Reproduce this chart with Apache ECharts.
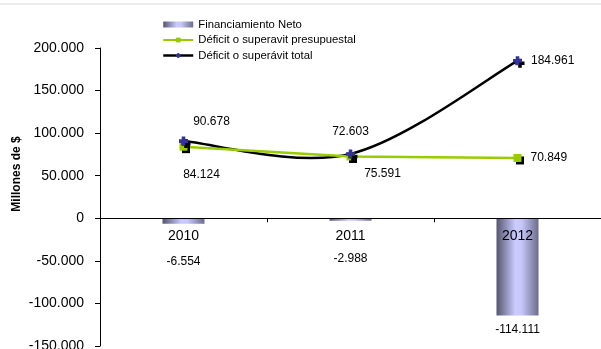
<!DOCTYPE html>
<html><head><meta charset="utf-8">
<script src="https://cdn.jsdelivr.net/npm/echarts@6/dist/echarts.min.js"></script>
<style>html,body{margin:0;padding:0;background:#fff}#c{width:601px;height:349px}</style>
</head><body><div id="c"></div>
<script>
var categories = ['2010', '2011', '2012'];
var financiamientoNeto = [-6554, -2988, -114111];
var deficitPresupuestal = [84124, 72603, 70849];
var deficitTotal = [90678, 75591, 184961];
var yTicks = { min: -150000, max: 200000, interval: 50000 };

// label placement (styles, not data)
var barLabelDist = [32, 32, 8];
var presLabelOffsets = [[18, 28], [0, -25], null];
var totalLabelOffsets = [[28, -19], [32, 20], null];

var FONT = "'Liberation Sans', Arial, sans-serif";
var GRID = { left: 100, right: 0, top: 48, bottom: 3 };
var H = 349;
var gridH = H - GRID.top - GRID.bottom;
var zeroOffset = -gridH * (0 - yTicks.min) / (yTicks.max - yTicks.min);

function fmt(v) {
  var s = Math.abs(Math.round(v)).toString().replace(/\B(?=(\d{3})+(?!\d))/g, '.');
  return (v < 0 ? '-' : '') + s;
}
var barGrad = { type: 'linear', x: 0, y: 0, x2: 1, y2: 0, colorStops: [
  { offset: 0, color: '#55556f' }, { offset: 0.45, color: '#cbcbff' },
  { offset: 0.6, color: '#c6c6fa' }, { offset: 1, color: '#6c6c8c' }] };

function lineData(vals, offs) {
  return vals.map(function (v, i) {
    var o = offs[i];
    var lbl = o ? { show: true, position: 'inside', offset: o }
                : { show: true, position: 'right', distance: 9 };
    return { value: v, label: lbl };
  });
}
var plusPath = 'path://M3,0H7V3H10V7H7V10H3V7H0V3H3Z';

// Excel-like smoothing (Catmull-Rom style bezier) through library coordinates
function smoothRender(params, api) {
  if (params.dataIndex !== 0) return null;
  var pts = deficitTotal.map(function (v, i) { return api.coord([i, v]); });
  var n = pts.length, t = 1 / 6;
  var d = 'M' + pts[0][0] + ' ' + pts[0][1];
  for (var i = 0; i < n - 1; i++) {
    var p0 = pts[Math.max(0, i - 1)], p1 = pts[i], p2 = pts[i + 1], p3 = pts[Math.min(n - 1, i + 2)];
    var c1x = p1[0] + (p2[0] - p0[0]) * t, c1y = p1[1] + (p2[1] - p0[1]) * t;
    var c2x = p2[0] - (p3[0] - p1[0]) * t, c2y = p2[1] - (p3[1] - p1[1]) * t;
    d += ' C' + c1x + ' ' + c1y + ' ' + c2x + ' ' + c2y + ' ' + p2[0] + ' ' + p2[1];
  }
  return { type: 'path', shape: { pathData: d }, style: { fill: 'none', stroke: '#000', lineWidth: 2.5 } };
}

var chart = echarts.init(document.getElementById('c'), null, { renderer: 'canvas' });
chart.setOption({
  animation: false,
  textStyle: { fontFamily: FONT },
  grid: { left: GRID.left, right: GRID.right, top: GRID.top, bottom: GRID.bottom, containLabel: false, outerBoundsMode: 'none' },
  legend: {
    orient: 'vertical', left: 157, top: 14, itemWidth: 30, itemHeight: 6, itemGap: 4.5, itemGap: 4.5,
    textStyle: { fontSize: 11.3, color: '#000', fontFamily: FONT },
    data: [
      { name: 'Financiamiento Neto', icon: 'rect' },
      { name: 'Déficit o superavit presupuestal' },
      { name: 'Déficit o superávit total', lineStyle: { color: '#000', width: 2.5, opacity: 1 } }
    ]
  },
  xAxis: {
    type: 'category', data: categories, z: 10, offset: zeroOffset,
    axisLine: { onZero: false, lineStyle: { color: '#000', width: 1 } },
    axisTick: { show: true, length: 4, lineStyle: { color: '#000' } },
    axisLabel: { fontSize: 14, color: '#000', margin: 11, fontFamily: FONT }
  },
  yAxis: {
    type: 'value', min: yTicks.min, max: yTicks.max, interval: yTicks.interval,
    splitLine: { show: false },
    axisLine: { show: true, onZero: false, lineStyle: { color: '#000', width: 1 } },
    axisTick: { show: true, length: 5, lineStyle: { color: '#000' } },
    axisLabel: { fontSize: 14, color: '#000', margin: 16, fontFamily: FONT, formatter: fmt }
  },
  graphic: [
    { type: 'rect', left: 0, top: 3, shape: { width: 601, height: 2 }, style: { fill: '#ebebeb' }, silent: true },
    { type: 'text', x: 17, y: 174, rotation: Math.PI / 2,
      style: { text: 'Millones de $', font: 'bold 12px ' + FONT, fill: '#000', align: 'center', verticalAlign: 'middle' } }
  ],
  series: [
    {
      name: 'Financiamiento Neto', type: 'bar', barWidth: 42,
      itemStyle: { color: barGrad },
      data: financiamientoNeto.map(function (v, i) {
        return { value: v, label: { show: true, position: 'outside', distance: barLabelDist[i] } };
      }),
      label: { fontSize: 12, color: '#000', fontFamily: FONT, formatter: function (p) { return fmt(p.value); } }
    },
    {
      name: 'Déficit o superavit presupuestal', type: 'line', smooth: false,
      symbol: 'rect', symbolSize: 8,
      lineStyle: { color: '#99cc00', width: 2.5 },
      itemStyle: { color: '#99cc00', shadowColor: '#000', shadowOffsetX: 2.5, shadowOffsetY: 2.5, shadowBlur: 0 },
      data: lineData(deficitPresupuestal, presLabelOffsets),
      label: { fontSize: 12, color: '#000', fontFamily: FONT, formatter: function (p) { return fmt(p.value); } }
    },
    {
      type: 'custom', renderItem: smoothRender, silent: true,
      data: deficitTotal.map(function (v, i) { return [i, v]; })
    },
    {
      name: 'Déficit o superávit total', type: 'line',
      symbol: plusPath, symbolSize: 9,
      lineStyle: { color: '#000', width: 0, opacity: 0 },
      itemStyle: { color: '#333399', shadowColor: '#000', shadowOffsetX: 2.5, shadowOffsetY: 2.5, shadowBlur: 0 },
      data: lineData(deficitTotal, totalLabelOffsets),
      label: { fontSize: 12, color: '#000', fontFamily: FONT, formatter: function (p) { return fmt(p.value); } }
    }
  ]
});
</script></body></html>
